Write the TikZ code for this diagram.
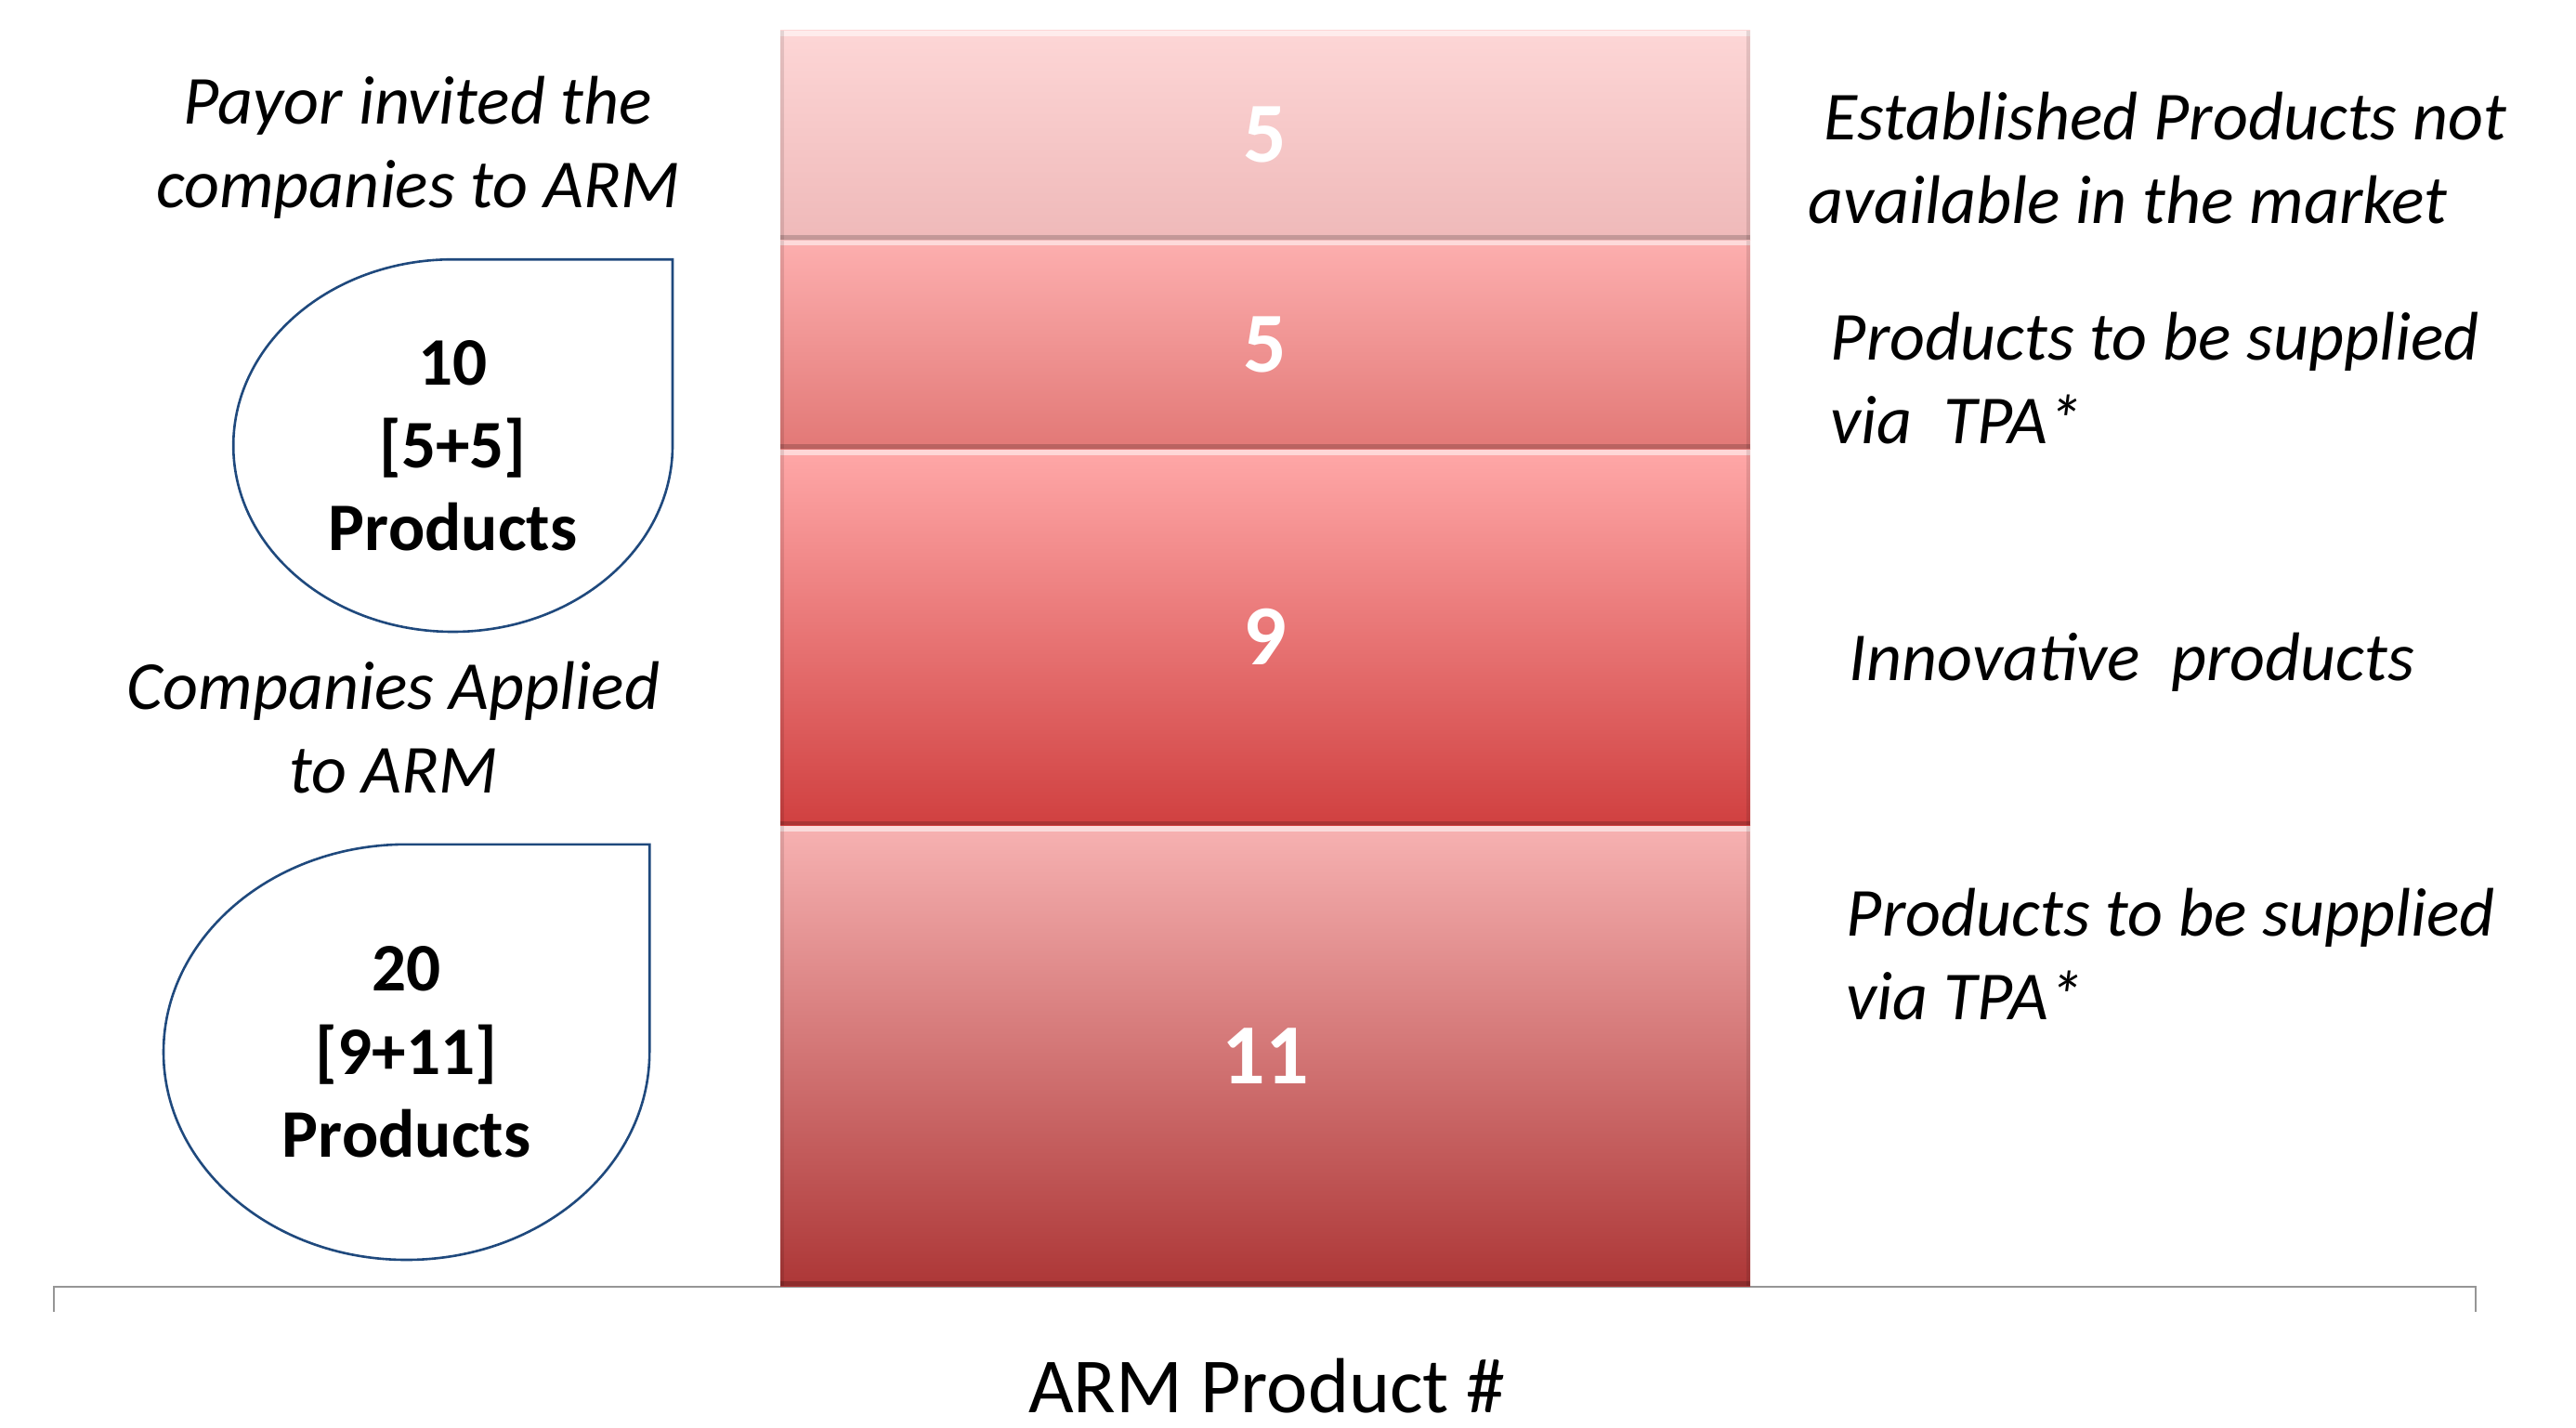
\documentclass[tikz,border=0pt]{standalone}
\usepackage{fontspec}
\setmainfont{Carlito}
\usetikzlibrary{positioning}
\definecolor{DropBlue}{RGB}{31,73,125}
\definecolor{AxisGray}{RGB}{150,150,150}
\definecolor{SegOneTop}{RGB}{253,214,214}
\definecolor{SegOneMid}{RGB}{248,200,200}
\definecolor{SegOneBot}{RGB}{239,185,185}
\definecolor{SegTwoTop}{RGB}{253,175,175}
\definecolor{SegTwoMid}{RGB}{245,152,150}
\definecolor{SegTwoBot}{RGB}{226,120,118}
\definecolor{SegThreeTop}{RGB}{255,168,168}
\definecolor{SegThreeMid}{RGB}{242,128,128}
\definecolor{SegThreeBot}{RGB}{208,64,64}
\definecolor{SegFourTop}{RGB}{247,178,178}
\definecolor{SegFourMid}{RGB}{222,145,145}
\definecolor{SegFourBot}{RGB}{173,55,55}
\tikzset{
  lbl/.style={font=\itshape\fontsize{18.5}{22.3}\selectfont, align=center, inner sep=0pt},
  lblleft/.style={lbl, align=left},
  dropline/.style={draw=DropBlue, line width=0.65pt},
  droptext/.style={font=\bfseries\fontsize{18.3}{22.3}\selectfont, align=center, inner sep=0pt},
  axisline/.style={draw=AxisGray, line width=0.6pt},
  bar/.style={minimum width=261pt, outer sep=0pt, inner sep=0pt, text=white,
              font=\bfseries\fontsize{23}{27}\selectfont,
              path picture={
                \fill[white, opacity=0.55] (path picture bounding box.north west)
                  rectangle ([yshift=-1.6pt]path picture bounding box.north east);
                \fill[black, opacity=0.18] (path picture bounding box.south west)
                  rectangle ([yshift=1.2pt]path picture bounding box.south east);
                \fill[black, opacity=0.10] (path picture bounding box.south west)
                  rectangle ([xshift=1pt]path picture bounding box.north west);
                \fill[black, opacity=0.10] (path picture bounding box.south east)
                  rectangle ([xshift=-1pt]path picture bounding box.north east);
              }}
}
\newcommand{\teardrop}[3]{%
  \draw[dropline] ([yshift=#3pt]#1.center) -- ++(#2,0) -- ++(0,-#3)
    arc[start angle=0, end angle=-270, x radius=#2, y radius=#3] -- cycle;
}

\begin{document}
\begin{tikzpicture}[x=1pt,y=1pt]

% Canvas
\useasboundingbox[fill=white] (0,0) rectangle (693.25,384);

% Axis
\coordinate (axisL) at (14.5,37.75);
\coordinate (axisR) at (666.25,37.75);
\draw[axisline] ([yshift=-6.75pt]axisL) -- (axisL) -- (axisR) -- ([yshift=-6.75pt]axisR);
\node[font=\fontsize{21}{25}\selectfont, anchor=base, inner sep=0pt] (axislabel) at (341,4) {ARM Product \#};

% Stacked bar
\node[bar, minimum height=123.9pt, anchor=south,
      top color=SegFourTop, middle color=SegFourMid, bottom color=SegFourBot] (seg4) at (340.5,38) {11};
\node[bar, minimum height=101.3pt, above=0pt of seg4,
      top color=SegThreeTop, middle color=SegThreeMid, bottom color=SegThreeBot] (seg3) {9};
\node[bar, minimum height=56.3pt, above=0pt of seg3,
      top color=SegTwoTop, middle color=SegTwoMid, bottom color=SegTwoBot] (seg2) {5};
\node[bar, minimum height=56.3pt, above=0pt of seg2,
      top color=SegOneTop, middle color=SegOneMid, bottom color=SegOneBot] (seg1) {5};

% Left side (base = last line)
\node[lbl, anchor=base] (payor) at (112.5,328.25) {Payor invited the\\companies to ARM};
\node[droptext] (drop1) at (121.9,264.1) {10\\{[5+5]}\\Products};
\teardrop{drop1}{59.1}{50.1}
\node[lbl, anchor=base] (applied) at (105.9,170.75) {Companies Applied\\to ARM};
\node[droptext] (drop2) at (109.4,100.9) {20\\{[9+11]}\\Products};
\teardrop{drop2}{65.4}{55.9}

% Right side
\node[lblleft, anchor=base west] (estab) at (486.5,324) {\hspace*{0.23em}Established Products not\\available in the market};
\node[lblleft, anchor=base west] (tpaone) at (492.5,264.75) {Products to be supplied\\via\ \ TPA*};
\node[lblleft, anchor=base west] (innov) at (497.5,201) {Innovative\ \ products};
\node[lblleft, anchor=base west] (tpatwo) at (496.75,109.75) {Products to be supplied\\via TPA*};

\end{tikzpicture}
\end{document}
